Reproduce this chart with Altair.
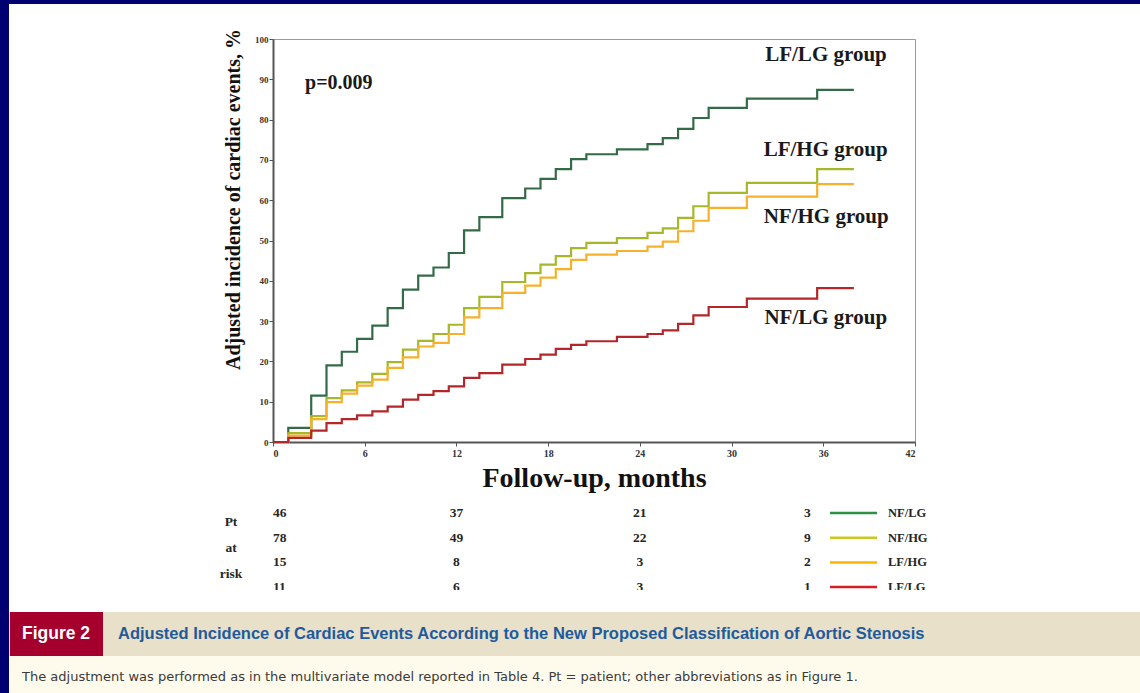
import altair as alt
import pandas as pd

# ---- data -------------------------------------------------------------
# event times (months) shared by the four adjusted curves
months = [0, 1, 2.5, 3.5, 4.5, 5.5, 6.5, 7.5, 8.5, 9.5, 10.5, 11.5, 12.5, 13.5,
          15, 16.5, 17.5, 18.5, 19.5, 20.5, 22.5, 24.5, 25.5, 26.5, 27.5, 28.5,
          31, 35.6]
end_of_follow_up = 38

inc_lf_lg = [0, 3.5, 11.5, 19.0, 22.4, 25.6, 28.9, 33.2, 37.8, 41.3, 43.3, 46.9,
             52.5, 55.8, 60.5, 62.9, 65.3, 67.7, 70.2, 71.4, 72.6, 73.9, 75.4,
             77.7, 80.4, 82.9, 85.2, 87.4]
inc_lf_hg = [0, 2.2, 6.4, 10.9, 12.8, 14.8, 16.9, 19.8, 22.9, 25.1, 26.8, 29.1,
             33.2, 36.0, 39.7, 41.9, 44.0, 46.1, 48.1, 49.4, 50.6, 51.9, 53.0,
             55.6, 58.5, 61.8, 64.3, 67.7]
inc_nf_hg = [0, 1.6, 5.7, 9.9, 12.0, 14.0, 15.5, 18.4, 21.0, 23.7, 24.6, 26.8,
             30.9, 33.2, 37.0, 38.8, 40.8, 42.9, 45.2, 46.5, 47.4, 48.5, 49.7,
             52.3, 54.9, 58.1, 60.9, 64.0]
inc_nf_lg = [0, 1.0, 2.8, 4.7, 5.7, 6.6, 7.6, 8.8, 10.5, 11.7, 12.6, 13.8,
             15.9, 17.1, 19.2, 20.6, 21.7, 23.1, 24.1, 25.0, 26.1, 26.8, 27.7,
             29.3, 31.4, 33.5, 35.6, 38.2]

curve_names = ["LF/LG group", "LF/HG group", "NF/HG group", "NF/LG group"]
curve_values = [inc_lf_lg, inc_lf_hg, inc_nf_hg, inc_nf_lg]
curve_colors = ["#336b47", "#a6b82a", "#f6b12c", "#b3262a"]

# patients at risk table
risk_times = [0, 12, 24, 36]
risk_groups = ["NF/LG", "NF/HG", "LF/HG", "LF/LG"]
risk_counts = [[46, 37, 21, 3],
               [78, 49, 22, 9],
               [15, 8, 3, 2],
               [11, 6, 3, 1]]
legend_colors = ["#2e8f46", "#c9c821", "#ffb300", "#d42020"]

p_value_text = "p=0.009"
x_ticks = list(range(0, 43, 6))
y_ticks = list(range(0, 101, 10))

# ---- layout -----------------------------------------------------------
W, H = 642, 403
LEFT, TOP = 273, 39
FULL_W, FULL_H = 1140, 693
SERIF = "Liberation Serif"
SANS = "Liberation Sans"

rows = []
for name, vals in zip(curve_names, curve_values):
    for t, v in zip(months, vals):
        rows.append({"series": name, "month": t, "inc": v})
    rows.append({"series": name, "month": end_of_follow_up, "inc": vals[-1]})
curve_df = pd.DataFrame(rows)

x_scale = alt.Scale(domain=[0, 42], nice=False)
y_scale = alt.Scale(domain=[0, 100], nice=False)

lines = alt.Chart(curve_df).mark_line(
    interpolate="step-after", strokeWidth=2.2
).encode(
    x=alt.X("month:Q", scale=x_scale,
            axis=alt.Axis(values=x_ticks, title="Follow-up, months",
                          titleY=44, titleBaseline="alphabetic")),
    y=alt.Y("inc:Q", scale=y_scale,
            axis=alt.Axis(values=y_ticks,
                          title="Adjusted incidence of cardiac events, %",
                          titleX=-40, titleY=160, titleAngle=270,
                          titleAlign="center", titleBaseline="middle")),
    color=alt.Color("series:N",
                    scale=alt.Scale(domain=curve_names, range=curve_colors),
                    legend=None),
    order=alt.Order("month:Q"),
)

# in-plot group labels and p value (anchored in data units)
label_df = pd.DataFrame({
    "text": curve_names,
    "month": [32.2, 32.1, 32.1, 32.15],
    "inc": [96.1, 72.5, 55.9, 30.8],
})
group_labels = alt.Chart(label_df).mark_text(
    align="left", baseline="middle", font=SERIF, fontWeight="bold",
    fontSize=21, color="#1a1a1a"
).encode(x=alt.X("month:Q", scale=x_scale), y=alt.Y("inc:Q", scale=y_scale),
         text="text:N")

p_df = pd.DataFrame({"text": [p_value_text], "month": [2.1], "inc": [89.2]})
p_label = alt.Chart(p_df).mark_text(
    align="left", baseline="middle", font=SERIF, fontWeight="bold",
    fontSize=20, color="#1a1a1a"
).encode(x=alt.X("month:Q", scale=x_scale), y=alt.Y("inc:Q", scale=y_scale),
         text="text:N")

one = pd.DataFrame({"k": [0]})


def rect(x0, x1, y0, y1, color):
    """Rectangle given in page pixels."""
    return alt.Chart(one).mark_rect(color=color, strokeWidth=0).encode(
        x=alt.value(x0 - LEFT), x2=alt.value(x1 - LEFT),
        y=alt.value(y0 - TOP), y2=alt.value(y1 - TOP))


def page_text(txt, x, y, **kw):
    return alt.Chart(one).mark_text(**kw).encode(
        x=alt.value(x - LEFT), y=alt.value(y - TOP), text=alt.value(txt))


# at-risk columns: one multi-line text per time point (first line at y)
row_gap = 24.7
first_row_y = 513
col_align = ["left", "center", "center", "center"]
col_dx = [0, 0, 0, -16]
risk_layers = []
for j, t in enumerate(risk_times):
    txt = "\n".join(str(r[j]) for r in risk_counts)
    risk_layers.append(
        alt.Chart(one).mark_text(
            align=col_align[j], baseline="middle", dx=col_dx[j],
            lineBreak="\n", lineHeight=row_gap, font=SERIF,
            fontWeight="bold", fontSize=13.5, color="#262626"
        ).encode(x=alt.datum(t, scale=x_scale),
                 y=alt.value(first_row_y - TOP),
                 text=alt.value(txt))
    )

pt_label = page_text("Pt\nat\nrisk", 231, 522, align="center",
                     baseline="middle", lineBreak="\n", lineHeight=26,
                     font=SERIF, fontWeight="bold", fontSize=13.5,
                     color="#262626")

legend_layers = []
for i, col in enumerate(legend_colors):
    yy = first_row_y + i * row_gap
    legend_layers.append(
        alt.Chart(one).mark_rule(color=col, strokeWidth=2.5).encode(
            x=alt.value(830 - LEFT), x2=alt.value(877 - LEFT),
            y=alt.value(yy - TOP))
    )
legend_text = page_text("\n".join(risk_groups), 888, first_row_y,
                        align="left", baseline="middle", lineBreak="\n",
                        lineHeight=row_gap, font=SERIF, fontWeight="bold",
                        fontSize=12.5, color="#262626")

# frame, caption band and caption text
navy = "#000070"
decor_back = [
    rect(0, FULL_W, 0, 4, navy),
    rect(0, 9, 0, FULL_H, navy),
]
decor_front = [
    rect(9, FULL_W, 590, 612, "white"),
    rect(9, FULL_W, 612, 656, "#e8e0c9"),
    rect(9, FULL_W, 656, FULL_H, "#fffbec"),
    rect(10, 103, 612, 656, "#a5002d"),
    page_text("Figure 2", 22, 634, align="left", baseline="middle",
              font=SANS, fontWeight="bold", fontSize=17.5, color="white"),
    page_text("Adjusted Incidence of Cardiac Events According to the New "
              "Proposed Classification of Aortic Stenosis", 118, 634,
              align="left", baseline="middle", font=SANS, fontWeight="bold",
              fontSize=16.5, color="#1f5b9c"),
    page_text("The adjustment was performed as in the multivariate model "
              "reported in Table 4. Pt = patient; other abbreviations as in "
              "Figure 1.", 22, 677, align="left", baseline="middle",
              font="DejaVu Sans", fontSize=13, color="#3a3a3a"),
]

chart = alt.layer(
    *decor_back, lines, group_labels, p_label, *risk_layers, pt_label,
    *legend_layers, legend_text, *decor_front
).properties(
    width=W, height=H,
    padding={"left": LEFT, "top": TOP,
             "right": FULL_W - LEFT - W, "bottom": FULL_H - TOP - H},
    autosize=alt.AutoSizeParams(type="none"),
    background="white",
).configure_view(
    stroke="#9a9a9a", strokeWidth=1
).configure_axis(
    grid=False, domainColor="#555", domainWidth=2, tickColor="#555",
    tickSize=4, tickWidth=1, labelFont=SERIF, labelFontWeight="bold",
    labelColor="#333", titleFont=SERIF, titleFontWeight="bold",
    titleColor="#111"
).configure_axisX(
    labelFontSize=10, labelPadding=2, titleFontSize=28
).configure_axisY(
    labelFontSize=9, labelPadding=1, titleFontSize=20
)

chart.save("out.html", embed_options={"renderer": "svg", "actions": False})
